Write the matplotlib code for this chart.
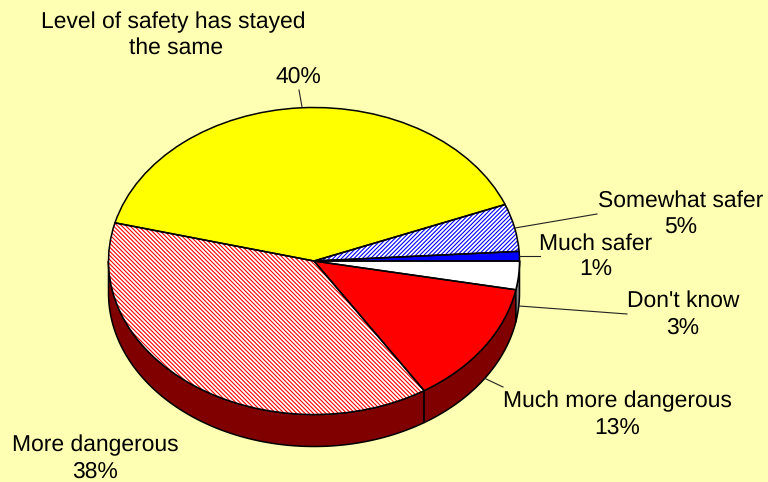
import numpy as np
import matplotlib
matplotlib.use("Agg")
import matplotlib.pyplot as plt

plt.rcParams['font.family'] = ['Liberation Sans', 'DejaVu Sans']
plt.rcParams['hatch.linewidth'] = 0.8
plt.rcParams['text.hinting'] = 'none'

# --- data ---
categories = ["Level of safety has stayed\nthe same", "More dangerous", "Much more dangerous",
              "Don't know", "Much safer", "Somewhat safer"]
values = [40, 38, 13, 3, 1, 5]

# --- styles ---
top_face = ['#FFFF00', '#FFFFFF', '#FF0000', '#FFFFFF', '#0000FF', '#FFFFFF']
top_hatch_color = ['#FFFF00', '#FF0000', '#FF0000', '#FFFFFF', '#0000FF', '#0000FF']
top_hatch = [None, '\\' * 8, None, None, None, '/' * 8]
wall_color = ['#808000', '#800000', '#800000', '#808080', '#000080', '#000080']
bg = '#FFFFB3'
start = 21.6

W, H = 768, 482
CX, CY, RX, RY, DEPTH = 314.0, 261.0, 205.5, 153.5, 32.0


def px(x, y):
    return (x - CX) / RX, (CY - y) / RY


fig = plt.figure(figsize=(W / 100, H / 100), dpi=100, facecolor=bg)
ax = fig.add_axes([0, 0, 1, 1])
ax.set_facecolor(bg)
d = DEPTH / RY

# extruded side wall, drawn wedge by wedge
edges = start + 360 * np.cumsum([0] + values) / sum(values)
for i in range(len(values)):
    a0, a1 = edges[i], edges[i + 1]
    # the visible part of the wall is the lower half of the ellipse
    lo, hi = max(a0, 180), min(a1, 360)
    if hi > lo:
        t = np.radians(np.linspace(lo, hi, 120))
        xs = np.cos(t)
        ys = np.sin(t)
        ax.fill(np.r_[xs, xs[::-1]], np.r_[ys, ys[::-1] - d],
                fc=wall_color[i], ec='black', lw=1.1, zorder=1, joinstyle='round')

# top surface: fills and hatching, then a separate outline
w1, _ = ax.pie(values, startangle=start, radius=1, center=(0, 0), frame=False,
               wedgeprops=dict(linewidth=0))
for i, p in enumerate(w1):
    p.set_zorder(2)
    p.set_facecolor(top_face[i])
    p.set_edgecolor(top_hatch_color[i])
    if top_hatch[i]:
        p.set_hatch(top_hatch[i])
w2, _ = ax.pie(values, startangle=start, radius=1, center=(0, 0), frame=False,
               wedgeprops=dict(linewidth=1.1, edgecolor='black', facecolor='none'))
for p in w2:
    p.set_zorder(3)

ax.set_aspect('auto')
ax.set_xlim(-CX / RX, (W - CX) / RX)
ax.set_ylim((CY - H) / RY, CY / RY)
ax.axis('off')

# leader lines (pixel coordinates of the picture)
leaders = [((302, 107), (299, 90)), ((515, 228), (597, 214)), ((519, 256), (540, 256)),
           ((519, 306), (627, 314)), ((484, 378), (503, 387))]
for (x0, y0), (x1, y1) in leaders:
    a, b = px(x0, y0), px(x1, y1)
    ax.plot([a[0], b[0]], [a[1], b[1]], color='#222222', lw=0.8, zorder=4)

# label positions: (centre x, y of first line, y of second line)
FS = 16.5
label_pos = {
    "Level of safety has stayed\nthe same": (173.5, 22, 48),
    "More dangerous": (95, 445, 472),
    "Much more dangerous": (617, 401, 428),
    "Don't know": (683, 301, 328),
    "Much safer": (596, 244, 270),
    "Somewhat safer": (680.5, 201, 228),
}
for name, v in zip(categories, values):
    cx, y1, y2 = label_pos[name]
    if "\n" in name:
        first, second = name.split("\n")
        ax.text(*px(cx, y1), first, ha='center', va='center', fontsize=FS, color='black', zorder=5)
        ax.text(*px(176, y2), second, ha='center', va='center', fontsize=FS, color='black', zorder=5)
        ax.text(*px(298, 77), f"{v}%", ha='center', va='center', fontsize=FS, color='black', zorder=5)
    else:
        ax.text(*px(cx, y1), name, ha='center', va='center', fontsize=FS, color='black', zorder=5)
        ax.text(*px(cx, y2), f"{v}%", ha='center', va='center', fontsize=FS, color='black', zorder=5)

fig.savefig('out.png', dpi=100, facecolor=bg)
